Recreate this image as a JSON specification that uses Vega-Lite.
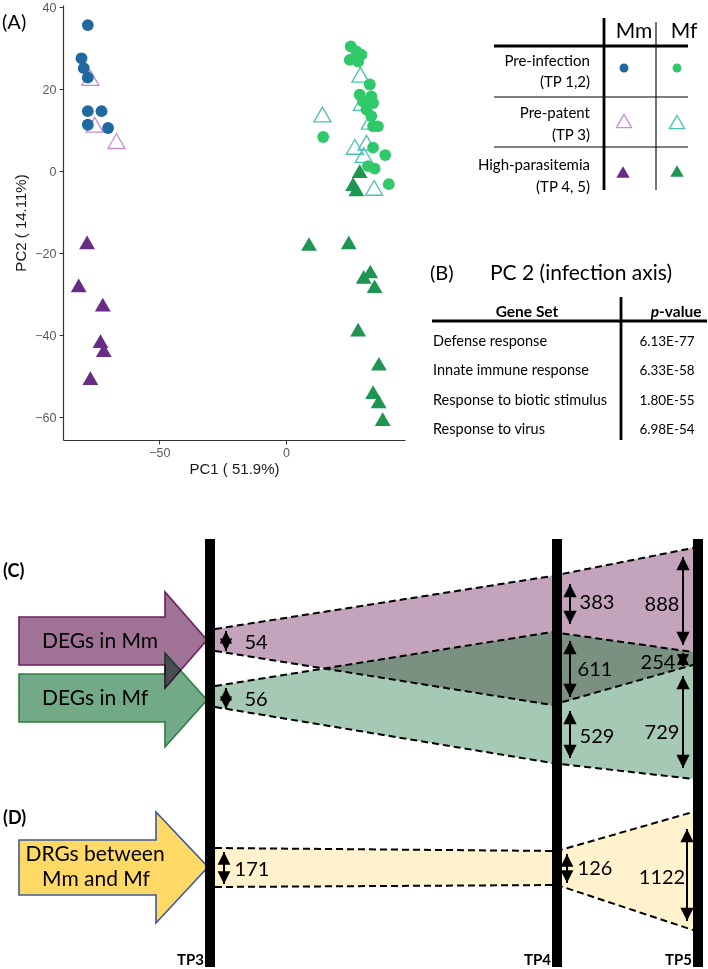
{
"$schema":"https://vega.github.io/schema/vega-lite/v6.json",
"width":342,"height":435,
"autosize":{"type":"none"},
"padding":{"left":63,"top":5,"right":303,"bottom":529},
"background":"white",
"config":{"view":{"stroke":null}},
"datasets":{
"pca":[
{"pc1":-78.2,"pc2":35.6,"group":"Mm-pre","stage":"Pre-infection"},
{"pc1":-80.7,"pc2":27.5,"group":"Mm-pre","stage":"Pre-infection"},
{"pc1":-79.8,"pc2":25.1,"group":"Mm-pre","stage":"Pre-infection"},
{"pc1":-78.2,"pc2":22.8,"group":"Mm-pre","stage":"Pre-infection"},
{"pc1":-78.2,"pc2":14.6,"group":"Mm-pre","stage":"Pre-infection"},
{"pc1":-72.8,"pc2":14.6,"group":"Mm-pre","stage":"Pre-infection"},
{"pc1":-78.2,"pc2":11.3,"group":"Mm-pre","stage":"Pre-infection"},
{"pc1":-70.2,"pc2":10.5,"group":"Mm-pre","stage":"Pre-infection"},
{"pc1":-77.2,"pc2":22.7,"group":"Mm-pp","stage":"Pre-patent"},
{"pc1":-75.5,"pc2":11.3,"group":"Mm-pp","stage":"Pre-patent"},
{"pc1":-66.9,"pc2":7.3,"group":"Mm-pp","stage":"Pre-patent"},
{"pc1":-78.5,"pc2":-17.4,"group":"Mm-high","stage":"High-parasitemia"},
{"pc1":-81.8,"pc2":-27.9,"group":"Mm-high","stage":"High-parasitemia"},
{"pc1":-72.3,"pc2":-32.6,"group":"Mm-high","stage":"High-parasitemia"},
{"pc1":-73.2,"pc2":-41.5,"group":"Mm-high","stage":"High-parasitemia"},
{"pc1":-71.9,"pc2":-43.7,"group":"Mm-high","stage":"High-parasitemia"},
{"pc1":-77.2,"pc2":-50.5,"group":"Mm-high","stage":"High-parasitemia"},
{"pc1":25.6,"pc2":30.4,"group":"Mf-pre","stage":"Pre-infection"},
{"pc1":25.2,"pc2":27.1,"group":"Mf-pre","stage":"Pre-infection"},
{"pc1":29.8,"pc2":28.4,"group":"Mf-pre","stage":"Pre-infection"},
{"pc1":27.8,"pc2":29.2,"group":"Mf-pre","stage":"Pre-infection"},
{"pc1":28.5,"pc2":26.7,"group":"Mf-pre","stage":"Pre-infection"},
{"pc1":33.1,"pc2":21.1,"group":"Mf-pre","stage":"Pre-infection"},
{"pc1":29.1,"pc2":18.6,"group":"Mf-pre","stage":"Pre-infection"},
{"pc1":33.7,"pc2":18.2,"group":"Mf-pre","stage":"Pre-infection"},
{"pc1":30.4,"pc2":17.0,"group":"Mf-pre","stage":"Pre-infection"},
{"pc1":34.4,"pc2":16.6,"group":"Mf-pre","stage":"Pre-infection"},
{"pc1":31.8,"pc2":15.0,"group":"Mf-pre","stage":"Pre-infection"},
{"pc1":33.7,"pc2":13.4,"group":"Mf-pre","stage":"Pre-infection"},
{"pc1":34.4,"pc2":10.9,"group":"Mf-pre","stage":"Pre-infection"},
{"pc1":36.3,"pc2":10.9,"group":"Mf-pre","stage":"Pre-infection"},
{"pc1":14.7,"pc2":8.3,"group":"Mf-pre","stage":"Pre-infection"},
{"pc1":34.4,"pc2":5.7,"group":"Mf-pre","stage":"Pre-infection"},
{"pc1":39.2,"pc2":3.9,"group":"Mf-pre","stage":"Pre-infection"},
{"pc1":32.4,"pc2":1.2,"group":"Mf-pre","stage":"Pre-infection"},
{"pc1":35.0,"pc2":0.6,"group":"Mf-pre","stage":"Pre-infection"},
{"pc1":40.6,"pc2":-3.2,"group":"Mf-pre","stage":"Pre-infection"},
{"pc1":29.4,"pc2":23.5,"group":"Mf-pp","stage":"Pre-patent"},
{"pc1":30.0,"pc2":16.6,"group":"Mf-pp","stage":"Pre-patent"},
{"pc1":14.4,"pc2":13.8,"group":"Mf-pp","stage":"Pre-patent"},
{"pc1":33.1,"pc2":12.0,"group":"Mf-pp","stage":"Pre-patent"},
{"pc1":27.2,"pc2":5.9,"group":"Mf-pp","stage":"Pre-patent"},
{"pc1":31.8,"pc2":6.9,"group":"Mf-pp","stage":"Pre-patent"},
{"pc1":30.7,"pc2":3.9,"group":"Mf-pp","stage":"Pre-patent"},
{"pc1":34.8,"pc2":-4.1,"group":"Mf-pp","stage":"Pre-patent"},
{"pc1":29.1,"pc2":0.0,"group":"Mf-high","stage":"High-parasitemia"},
{"pc1":26.5,"pc2":-3.2,"group":"Mf-high","stage":"High-parasitemia"},
{"pc1":27.8,"pc2":-4.5,"group":"Mf-high","stage":"High-parasitemia"},
{"pc1":9.1,"pc2":-17.8,"group":"Mf-high","stage":"High-parasitemia"},
{"pc1":24.8,"pc2":-17.4,"group":"Mf-high","stage":"High-parasitemia"},
{"pc1":30.7,"pc2":-25.8,"group":"Mf-high","stage":"High-parasitemia"},
{"pc1":33.3,"pc2":-24.5,"group":"Mf-high","stage":"High-parasitemia"},
{"pc1":35.0,"pc2":-28.1,"group":"Mf-high","stage":"High-parasitemia"},
{"pc1":28.5,"pc2":-38.7,"group":"Mf-high","stage":"High-parasitemia"},
{"pc1":36.7,"pc2":-47.0,"group":"Mf-high","stage":"High-parasitemia"},
{"pc1":34.4,"pc2":-53.9,"group":"Mf-high","stage":"High-parasitemia"},
{"pc1":36.6,"pc2":-56.2,"group":"Mf-high","stage":"High-parasitemia"},
{"pc1":38.2,"pc2":-60.5,"group":"Mf-high","stage":"High-parasitemia"}
],
"legsym":[
{"x":624,"y":68,"group":"Mm-pre","stage":"Pre-infection"},
{"x":677,"y":68,"group":"Mf-pre","stage":"Pre-infection"},
{"x":624,"y":121,"group":"Mm-pp","stage":"Pre-patent"},
{"x":677,"y":122,"group":"Mf-pp","stage":"Pre-patent"},
{"x":623,"y":172,"group":"Mm-high","stage":"High-parasitemia"},
{"x":677,"y":171,"group":"Mf-high","stage":"High-parasitemia"}
],
"arrows":[
{"id":"mmA","x":19,"top":617,"bot":665},
{"id":"mmA","x":165,"top":617,"bot":665},
{"id":"mmA","x":165,"top":592,"bot":688},
{"id":"mmA","x":207,"top":640,"bot":640},
{"id":"mfA","x":19,"top":674,"bot":722},
{"id":"mfA","x":165,"top":674,"bot":722},
{"id":"mfA","x":165,"top":653,"bot":747},
{"id":"mfA","x":207,"top":700,"bot":700},
{"id":"drgA","x":19,"top":840,"bot":895},
{"id":"drgA","x":156,"top":840,"bot":895},
{"id":"drgA","x":156,"top":812,"bot":923},
{"id":"drgA","x":208,"top":867,"bot":867}
],
"bands":[
{"id":"mmB","x":215,"top":629,"bot":651},
{"id":"mmB","x":552,"top":576,"bot":705},
{"id":"mmB","x":693,"top":548,"bot":665},
{"id":"mfB","x":215,"top":686,"bot":707},
{"id":"mfB","x":552,"top":632,"bot":763},
{"id":"mfB","x":693,"top":652,"bot":779},
{"id":"drgB","x":215,"top":848,"bot":887},
{"id":"drgB","x":557,"top":851,"bot":885},
{"id":"drgB","x":693,"top":812,"bot":930}
],
"overlap":[
{"x":324,"top":668.5,"bot":668.5},
{"x":552,"top":632,"bot":705},
{"x":693,"top":652,"bot":665}
],
"bars":[
{"tp":"TP3","x":210,"y1":539,"y2":967,"lx":204},
{"tp":"TP4","x":557,"y1":539,"y2":967,"lx":551},
{"tp":"TP5","x":698,"y1":539,"y2":967,"lx":692}
],
"dims":[
{"n":"54","x":226,"top":631,"bot":651,"lx":256,"ly":643,"k":"s"},
{"n":"56","x":226,"top":688,"bot":709,"lx":256,"ly":700,"k":"s"},
{"n":"383","x":570,"top":584,"bot":624,"lx":597,"ly":603,"k":"b"},
{"n":"611","x":570,"top":641,"bot":697,"lx":595,"ly":670,"k":"b"},
{"n":"529","x":570,"top":711,"bot":758,"lx":597,"ly":737,"k":"b"},
{"n":"888","x":683,"top":557,"bot":645,"lx":662,"ly":605,"k":"b"},
{"n":"254","x":683,"top":653,"bot":666,"lx":658,"ly":663,"k":"t"},
{"n":"729","x":683,"top":676,"bot":768,"lx":662,"ly":733,"k":"b"},
{"n":"171","x":224,"top":852,"bot":884,"lx":252,"ly":870,"k":"m"},
{"n":"126","x":567,"top":854,"bot":883,"lx":595,"ly":869,"k":"m"},
{"n":"1122","x":687,"top":829,"bot":921,"lx":662,"ly":878,"k":"b"}
],
"tlines":[
{"x":604,"y":18,"x2":604,"y2":190,"w":"thick"},
{"x":656,"y":22,"x2":656,"y2":190,"w":"thin"},
{"x":494,"y":46,"x2":688,"y2":46,"w":"thick"},
{"x":494,"y":97,"x2":688,"y2":97,"w":"thin"},
{"x":494,"y":147,"x2":688,"y2":147,"w":"thin"},
{"x":621,"y":297,"x2":621,"y2":440,"w":"thick"},
{"x":432,"y":321,"x2":707,"y2":321,"w":"thick"}
],
"labels":[
{"t":"DEGs in Mm","x":100,"y":642,"s":"c21"},
{"t":"DEGs in Mf","x":95,"y":699,"s":"c21"},
{"t":"DRGs between","x":95,"y":855,"s":"c21"},
{"t":"Mm and Mf","x":96,"y":880,"s":"c21"},
{"t":"PC 2 (infection axis)","x":581,"y":274,"s":"c21"},
{"t":"Mm","x":634,"y":32,"s":"c21"},
{"t":"Mf","x":684,"y":32,"s":"c21"},
{"t":"(A)","x":2,"y":23,"s":"panel"},
{"t":"(B)","x":430,"y":274,"s":"panel"},
{"t":"(C)","x":3,"y":572,"s":"panelb"},
{"t":"(D)","x":3,"y":819,"s":"panelb"},
{"t":"Pre-infection","x":590,"y":61,"s":"row"},
{"t":"(TP 1,2)","x":590,"y":82,"s":"row"},
{"t":"Pre-patent","x":590,"y":113,"s":"row"},
{"t":"(TP 3)","x":590,"y":135,"s":"row"},
{"t":"High-parasitemia","x":590,"y":165,"s":"row"},
{"t":"(TP 4, 5)","x":590,"y":187,"s":"row"},
{"t":"Defense response","x":433,"y":342,"s":"gene"},
{"t":"Innate immune response","x":433,"y":371,"s":"gene"},
{"t":"Response to biotic stimulus","x":433,"y":401,"s":"gene"},
{"t":"Response to virus","x":433,"y":430,"s":"gene"},
{"t":"6.13E-77","x":667,"y":342,"s":"pval"},
{"t":"6.33E-58","x":667,"y":371,"s":"pval"},
{"t":"1.80E-55","x":667,"y":401,"s":"pval"},
{"t":"6.98E-54","x":667,"y":430,"s":"pval"},
{"t":"Gene Set","x":527,"y":312,"s":"hdr"},
{"t":"p","x":659,"y":312,"s":"pit"},
{"t":"-value","x":659,"y":312,"s":"pv"}
]
},
"resolve":{"scale":{"x":"independent","y":"independent"}},
"layer":[
{
"data":{"name":"pca"},
"encoding":{
"x":{"field":"pc1","type":"quantitative","scale":{"domain":[-88,47],"nice":false,"zero":false},
"axis":{"values":[-50,0],"title":"PC1 ( 51.9%)","grid":false,"domainColor":"#333333","domainWidth":1.2,"tickColor":"#333333","tickSize":4,"labelFont":"Liberation Sans","labelFontSize":12.5,"labelColor":"#5a5a5a","labelPadding":2,"titleFont":"Liberation Sans","titleFontSize":15,"titleFontWeight":"normal","titleColor":"#1a1a1a","titlePadding":3}},
"y":{"field":"pc2","type":"quantitative","scale":{"domain":[-65.6,40.5],"nice":false,"zero":false},
"axis":{"values":[-60,-40,-20,0,20,40],"title":"PC2 ( 14.11%)","grid":false,"domainColor":"#333333","domainWidth":1.2,"tickColor":"#333333","tickSize":4,"labelFont":"Liberation Sans","labelFontSize":12.5,"labelColor":"#5a5a5a","labelPadding":3,"titleFont":"Liberation Sans","titleFontSize":15,"titleFontWeight":"normal","titleColor":"#1a1a1a","titlePadding":6}},
"color":{"field":"group","type":"nominal","scale":{"domain":["Mm-pre","Mf-pre","Mm-pp","Mf-pp","Mm-high","Mf-high"],"range":["#20699e","#30c96a","#c68ad8","#48c2b0","#682b86","#1e9550"]},"legend":null},
"shape":{"field":"stage","type":"nominal","scale":{"domain":["Pre-infection","Pre-patent","High-parasitemia"],"range":["circle","triangle-up","triangle-up"]},"legend":null}
},
"layer":[
{"transform":[{"filter":"datum.stage==='Pre-patent'"}],"mark":{"type":"point","filled":false,"opacity":1,"size":290,"strokeWidth":1.3}},
{"transform":[{"filter":"datum.stage==='Pre-infection'"}],"mark":{"type":"point","filled":true,"opacity":1,"size":140}},
{"transform":[{"filter":"datum.stage==='High-parasitemia'"}],"mark":{"type":"point","filled":true,"opacity":1,"size":250}}
]
},
{
"layer":[
{"data":{"name":"bands"},"mark":{"type":"area","opacity":1},
"encoding":{
"x":{"field":"x","type":"quantitative","scale":{"domain":[0,708],"range":[-63,645],"nice":false,"zero":false},"axis":null},
"y":{"field":"top","type":"quantitative","scale":{"domain":[0,969],"range":[-5,964],"nice":false,"zero":false},"axis":null},
"y2":{"field":"bot"},
"fill":{"field":"id","type":"nominal","scale":{"domain":["mmA","mfA","drgA","mmB","mfB","drgB"],"range":["#a07396","#72aa88","#ffd966","#c3a4bc","#a5c9b5","#fff2cc"]},"legend":null}
}},
{"data":{"name":"overlap"},"mark":{"type":"area","opacity":1,"fill":"#7a9181"},
"encoding":{
"x":{"field":"x","type":"quantitative","scale":{"domain":[0,708],"range":[-63,645],"nice":false,"zero":false},"axis":null},
"y":{"field":"top","type":"quantitative","scale":{"domain":[0,969],"range":[-5,964],"nice":false,"zero":false},"axis":null},
"y2":{"field":"bot"}
}},
{"data":{"name":"bands"},"mark":{"type":"line","color":"black","strokeWidth":2,"strokeDash":[7,4]},
"encoding":{
"x":{"field":"x","type":"quantitative","scale":{"domain":[0,708],"range":[-63,645],"nice":false,"zero":false},"axis":null},
"y":{"field":"top","type":"quantitative","scale":{"domain":[0,969],"range":[-5,964],"nice":false,"zero":false},"axis":null},
"detail":{"field":"id"}
}},
{"data":{"name":"bands"},"mark":{"type":"line","color":"black","strokeWidth":2,"strokeDash":[7,4]},
"encoding":{
"x":{"field":"x","type":"quantitative","scale":{"domain":[0,708],"range":[-63,645],"nice":false,"zero":false},"axis":null},
"y":{"field":"bot","type":"quantitative","scale":{"domain":[0,969],"range":[-5,964],"nice":false,"zero":false},"axis":null},
"detail":{"field":"id"}
}},
{"data":{"name":"arrows"},"mark":{"type":"area","opacity":1,"strokeWidth":1.6,"blend":"multiply"},
"encoding":{
"x":{"field":"x","type":"quantitative","scale":{"domain":[0,708],"range":[-63,645],"nice":false,"zero":false},"axis":null},
"y":{"field":"top","type":"quantitative","scale":{"domain":[0,969],"range":[-5,964],"nice":false,"zero":false},"axis":null},
"y2":{"field":"bot"},
"fill":{"field":"id","type":"nominal","scale":{"domain":["mmA","mfA","drgA","mmB","mfB","drgB"],"range":["#a07396","#72aa88","#ffd966","#c3a4bc","#a5c9b5","#fff2cc"]},"legend":null},
"stroke":{"field":"id","type":"nominal","scale":{"domain":["mmA","mfA","drgA"],"range":["#6e1f5e","#2f7d3e","#3c5a9a"]},"legend":null}
}},
{"data":{"name":"bars"},"mark":{"type":"rule","color":"black","strokeWidth":10},
"encoding":{
"x":{"field":"x","type":"quantitative","scale":{"domain":[0,708],"range":[-63,645],"nice":false,"zero":false},"axis":null},
"y":{"field":"y1","type":"quantitative","scale":{"domain":[0,969],"range":[-5,964],"nice":false,"zero":false},"axis":null},
"y2":{"field":"y2"}
}},
{"data":{"name":"bars"},"mark":{"type":"text","font":"Lato","fontWeight":"bold","fontSize":15,"align":"right","baseline":"middle","color":"black"},
"encoding":{
"x":{"field":"lx","type":"quantitative","scale":{"domain":[0,708],"range":[-63,645],"nice":false,"zero":false},"axis":null},
"y":{"datum":960,"type":"quantitative","scale":{"domain":[0,969],"range":[-5,964],"nice":false,"zero":false},"axis":null},
"text":{"field":"tp"}
}},
{"data":{"name":"dims"},"mark":{"type":"rule","color":"black","strokeWidth":2},
"encoding":{
"x":{"field":"x","type":"quantitative","scale":{"domain":[0,708],"range":[-63,645],"nice":false,"zero":false},"axis":null},
"y":{"field":"top","type":"quantitative","scale":{"domain":[0,969],"range":[-5,964],"nice":false,"zero":false},"axis":null},
"y2":{"field":"bot"}
}},
{"data":{"name":"dims"},"mark":{"type":"point","shape":"M0,0L-0.6,1.2L0.6,1.2Z","filled":true,"color":"black","opacity":1},
"encoding":{
"x":{"field":"x","type":"quantitative","scale":{"domain":[0,708],"range":[-63,645],"nice":false,"zero":false},"axis":null},
"y":{"field":"top","type":"quantitative","scale":{"domain":[0,969],"range":[-5,964],"nice":false,"zero":false},"axis":null},
"size":{"field":"k","type":"ordinal","scale":{"domain":["b","m","s","t"],"range":[484,400,256,100]},"legend":null}
}},
{"data":{"name":"dims"},"mark":{"type":"point","shape":"M0,0L-0.6,-1.2L0.6,-1.2Z","filled":true,"color":"black","opacity":1},
"encoding":{
"x":{"field":"x","type":"quantitative","scale":{"domain":[0,708],"range":[-63,645],"nice":false,"zero":false},"axis":null},
"y":{"field":"bot","type":"quantitative","scale":{"domain":[0,969],"range":[-5,964],"nice":false,"zero":false},"axis":null},
"size":{"field":"k","type":"ordinal","scale":{"domain":["b","m","s","t"],"range":[484,400,256,100]},"legend":null}
}},
{"data":{"name":"dims"},"mark":{"type":"text","font":"Lato","fontSize":20,"align":"center","baseline":"middle","color":"black"},
"encoding":{
"x":{"field":"lx","type":"quantitative","scale":{"domain":[0,708],"range":[-63,645],"nice":false,"zero":false},"axis":null},
"y":{"field":"ly","type":"quantitative","scale":{"domain":[0,969],"range":[-5,964],"nice":false,"zero":false},"axis":null},
"text":{"field":"n"}
}},
{"data":{"name":"tlines"},"mark":{"type":"rule","color":"black"},
"encoding":{
"x":{"field":"x","type":"quantitative","scale":{"domain":[0,708],"range":[-63,645],"nice":false,"zero":false},"axis":null},
"y":{"field":"y","type":"quantitative","scale":{"domain":[0,969],"range":[-5,964],"nice":false,"zero":false},"axis":null},
"x2":{"field":"x2"},
"y2":{"field":"y2"},
"strokeWidth":{"field":"w","type":"nominal","scale":{"domain":["thick","thin"],"range":[2.8,1.1]},"legend":null}
}},
{"data":{"name":"legsym"},"transform":[{"filter":"datum.stage==='Pre-infection'"}],"mark":{"type":"point","filled":true,"opacity":1,"size":80},
"encoding":{
"x":{"field":"x","type":"quantitative","scale":{"domain":[0,708],"range":[-63,645],"nice":false,"zero":false},"axis":null},
"y":{"field":"y","type":"quantitative","scale":{"domain":[0,969],"range":[-5,964],"nice":false,"zero":false},"axis":null},
"color":{"field":"group","type":"nominal","legend":null},
"shape":{"field":"stage","type":"nominal","legend":null}
}},
{"data":{"name":"legsym"},"transform":[{"filter":"datum.stage==='Pre-patent'"}],"mark":{"type":"point","filled":false,"opacity":1,"size":230,"strokeWidth":1.3},
"encoding":{
"x":{"field":"x","type":"quantitative","scale":{"domain":[0,708],"range":[-63,645],"nice":false,"zero":false},"axis":null},
"y":{"field":"y","type":"quantitative","scale":{"domain":[0,969],"range":[-5,964],"nice":false,"zero":false},"axis":null},
"color":{"field":"group","type":"nominal","legend":null},
"shape":{"field":"stage","type":"nominal","legend":null}
}},
{"data":{"name":"legsym"},"transform":[{"filter":"datum.stage==='High-parasitemia'"}],"mark":{"type":"point","filled":true,"opacity":1,"size":180},
"encoding":{
"x":{"field":"x","type":"quantitative","scale":{"domain":[0,708],"range":[-63,645],"nice":false,"zero":false},"axis":null},
"y":{"field":"y","type":"quantitative","scale":{"domain":[0,969],"range":[-5,964],"nice":false,"zero":false},"axis":null},
"color":{"field":"group","type":"nominal","legend":null},
"shape":{"field":"stage","type":"nominal","legend":null}
}},
{"data":{"name":"labels"},"transform":[{"filter":"datum.s==='c21'"}],"mark":{"type":"text","font":"Lato","fontSize":21,"align":"center","baseline":"middle","color":"black"},
"encoding":{
"x":{"field":"x","type":"quantitative","scale":{"domain":[0,708],"range":[-63,645],"nice":false,"zero":false},"axis":null},
"y":{"field":"y","type":"quantitative","scale":{"domain":[0,969],"range":[-5,964],"nice":false,"zero":false},"axis":null},
"text":{"field":"t"}
}},
{"data":{"name":"labels"},"transform":[{"filter":"datum.s==='panel'"}],"mark":{"type":"text","font":"Lato","fontSize":20,"align":"left","baseline":"middle","color":"black"},
"encoding":{
"x":{"field":"x","type":"quantitative","scale":{"domain":[0,708],"range":[-63,645],"nice":false,"zero":false},"axis":null},
"y":{"field":"y","type":"quantitative","scale":{"domain":[0,969],"range":[-5,964],"nice":false,"zero":false},"axis":null},
"text":{"field":"t"}
}},
{"data":{"name":"labels"},"transform":[{"filter":"datum.s==='panelb'"}],"mark":{"type":"text","font":"Lato","fontSize":18,"fontWeight":"bold","align":"left","baseline":"middle","color":"black"},
"encoding":{
"x":{"field":"x","type":"quantitative","scale":{"domain":[0,708],"range":[-63,645],"nice":false,"zero":false},"axis":null},
"y":{"field":"y","type":"quantitative","scale":{"domain":[0,969],"range":[-5,964],"nice":false,"zero":false},"axis":null},
"text":{"field":"t"}
}},
{"data":{"name":"labels"},"transform":[{"filter":"datum.s==='row'"}],"mark":{"type":"text","font":"Lato","fontSize":15,"align":"right","baseline":"middle","color":"black"},
"encoding":{
"x":{"field":"x","type":"quantitative","scale":{"domain":[0,708],"range":[-63,645],"nice":false,"zero":false},"axis":null},
"y":{"field":"y","type":"quantitative","scale":{"domain":[0,969],"range":[-5,964],"nice":false,"zero":false},"axis":null},
"text":{"field":"t"}
}},
{"data":{"name":"labels"},"transform":[{"filter":"datum.s==='gene'"}],"mark":{"type":"text","font":"Lato","fontSize":14.5,"align":"left","baseline":"middle","color":"black"},
"encoding":{
"x":{"field":"x","type":"quantitative","scale":{"domain":[0,708],"range":[-63,645],"nice":false,"zero":false},"axis":null},
"y":{"field":"y","type":"quantitative","scale":{"domain":[0,969],"range":[-5,964],"nice":false,"zero":false},"axis":null},
"text":{"field":"t"}
}},
{"data":{"name":"labels"},"transform":[{"filter":"datum.s==='pval'"}],"mark":{"type":"text","font":"Lato","fontSize":13.5,"align":"center","baseline":"middle","color":"black"},
"encoding":{
"x":{"field":"x","type":"quantitative","scale":{"domain":[0,708],"range":[-63,645],"nice":false,"zero":false},"axis":null},
"y":{"field":"y","type":"quantitative","scale":{"domain":[0,969],"range":[-5,964],"nice":false,"zero":false},"axis":null},
"text":{"field":"t"}
}},
{"data":{"name":"labels"},"transform":[{"filter":"datum.s==='hdr'"}],"mark":{"type":"text","font":"Lato","fontSize":15.5,"fontWeight":"bold","align":"center","baseline":"middle","color":"black"},
"encoding":{
"x":{"field":"x","type":"quantitative","scale":{"domain":[0,708],"range":[-63,645],"nice":false,"zero":false},"axis":null},
"y":{"field":"y","type":"quantitative","scale":{"domain":[0,969],"range":[-5,964],"nice":false,"zero":false},"axis":null},
"text":{"field":"t"}
}},
{"data":{"name":"labels"},"transform":[{"filter":"datum.s==='pit'"}],"mark":{"type":"text","font":"Lato","fontSize":15.5,"fontWeight":"bold","fontStyle":"italic","align":"right","baseline":"middle","color":"black"},
"encoding":{
"x":{"field":"x","type":"quantitative","scale":{"domain":[0,708],"range":[-63,645],"nice":false,"zero":false},"axis":null},
"y":{"field":"y","type":"quantitative","scale":{"domain":[0,969],"range":[-5,964],"nice":false,"zero":false},"axis":null},
"text":{"field":"t"}
}},
{"data":{"name":"labels"},"transform":[{"filter":"datum.s==='pv'"}],"mark":{"type":"text","font":"Lato","fontSize":15.5,"fontWeight":"bold","align":"left","baseline":"middle","color":"black"},
"encoding":{
"x":{"field":"x","type":"quantitative","scale":{"domain":[0,708],"range":[-63,645],"nice":false,"zero":false},"axis":null},
"y":{"field":"y","type":"quantitative","scale":{"domain":[0,969],"range":[-5,964],"nice":false,"zero":false},"axis":null},
"text":{"field":"t"}
}}
]
}
]
}
